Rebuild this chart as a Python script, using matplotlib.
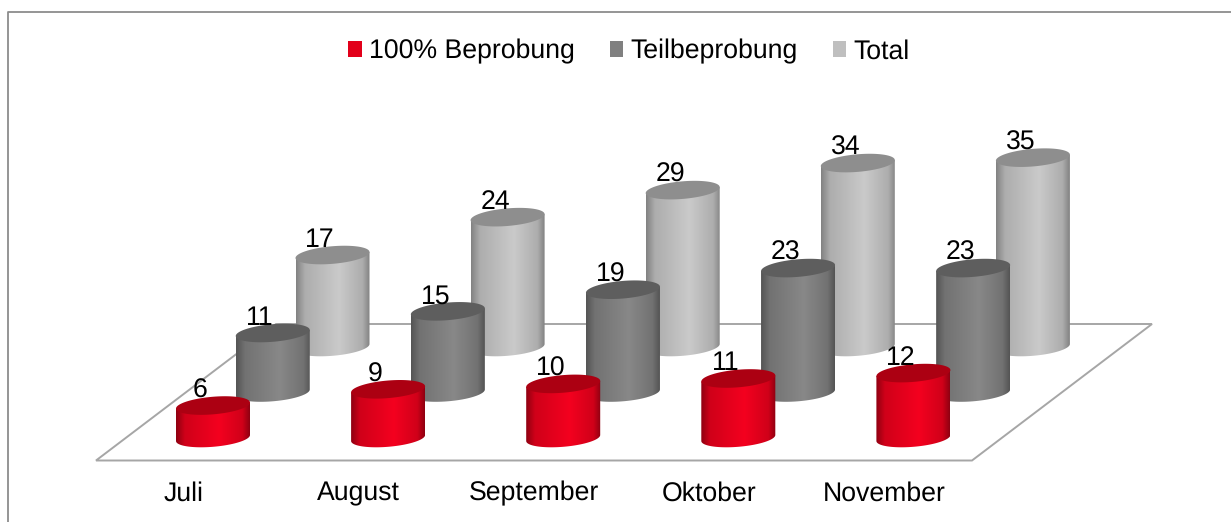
import numpy as np
import matplotlib
matplotlib.use('Agg')
import matplotlib.pyplot as plt
from matplotlib.colors import LinearSegmentedColormap
from matplotlib.patches import Patch, Polygon
from matplotlib.transforms import Affine2D

plt.rcParams['font.family'] = ['Liberation Sans', 'DejaVu Sans']
plt.rcParams['text.hinting'] = 'none'

# values
months = ['Juli', 'August', 'September', 'Oktober', 'November']
series_names = ['100% Beprobung', 'Teilbeprobung', 'Total']
beprobung = [6, 9, 10, 11, 12]
teilbeprobung = [11, 15, 19, 23, 23]
total = [17, 24, 29, 34, 35]
all_values = [beprobung, teilbeprobung, total]

# look of each series: edge, shoulder, bright part, top of the cylinder, legend
looks = [
    ('#8e0011', '#d00019', '#f4001f', '#ac0012', '#e2001a'),
    ('#545454', '#727272', '#888888', '#5e5e5e', '#808080'),
    ('#828282', '#adadad', '#cacaca', '#8e8e8e', '#bfbfbf'),
]

# fake 3d: one category = 175.1 px, one value unit = 5.41 px
px_x = 175.1
px_y = 5.41
x0 = 213
y0 = 438
depth_x = 59.75 / px_x
depth_y = 45.5 / px_y
half_w = 37 / px_x
half_h = 8.8 / px_y
skew = 3.0 / px_y
font_size = 19.2

W, H = 1231, 522
fig = plt.figure(figsize=(W / 100, H / 100), dpi=100)
ax = fig.add_axes([0, 0, 1, 1])
ax.axis('off')

# figure pixels, y going down, for frame and floor
px = Affine2D().scale(1, -1).translate(0, H)

# outer frame, open at right and bottom
ax.plot([8, 8, W], [H, 11.5, 11.5], color='#8c8c8c', lw=1.3, transform=px, clip_on=False)

# floor
floor = Polygon([(96, 460.5), (972, 460.5), (1152, 324), (276, 324)], closed=True,
                facecolor='white', edgecolor='#a6a6a6', lw=1.4, transform=px, zorder=1)
ax.add_patch(floor)

t = np.linspace(0, 2 * np.pi, 120)
ramp = np.linspace(0, 1, 256).reshape(1, -1)


def ellipse(cx, cy):
    ex = half_w * np.cos(t)
    ey = half_h * np.sin(t) + skew * np.cos(t)
    return cx + ex, cy + ey


def cylinder(cx, cy, h, look, z):
    cmap = LinearSegmentedColormap.from_list('c', [(0, look[0]), (0.12, look[1]), (0.58, look[2]),
                                                   (0.9, look[1]), (1, look[0])])
    # side wall: lower half of base ellipse, closed along the top
    low = np.linspace(np.pi, 2 * np.pi, 60)
    bx = cx + half_w * np.cos(low)
    by = cy + half_h * np.sin(low) + skew * np.cos(low)
    wx = np.r_[bx, cx + half_w, cx - half_w]
    wy = np.r_[by, cy + h + skew, cy + h - skew]
    wall = Polygon(np.c_[wx, wy], closed=True, transform=ax.transData, fc='none', ec='none')
    ax.add_patch(wall)
    im = ax.imshow(ramp, cmap=cmap, aspect='auto', zorder=z,
                   extent=[cx - half_w, cx + half_w, cy - half_h - 1, cy + h + 1])
    im.set_clip_path(wall)
    ex, ey = ellipse(cx, cy + h)
    ax.fill(ex, ey, color=look[3], lw=0, zorder=z + 0.1)


# back series first so the front ones cover them
for s in [2, 1, 0]:
    for i, v in enumerate(all_values[s]):
        cx = i + s * depth_x
        cy = s * depth_y
        cylinder(cx, cy, v, looks[s], 2 + (2 - s))
        ax.text(cx - 12.5 / px_x, cy + v + 8 / px_y, str(v), fontsize=font_size, color='black',
                ha='center', va='baseline', zorder=10)

for i, name in enumerate(months):
    ax.text(i - 29.5 / px_x, -62.5 / px_y, name, fontsize=font_size, color='black',
            ha='center', va='baseline', zorder=10)

# data limits so that value 0 of the first series sits at (x0, y0) in pixels
ax.set_xlim(-x0 / px_x, (W - x0) / px_x)
ax.set_ylim((y0 - H) / px_y, y0 / px_y)

handles = [Patch(facecolor=looks[s][4], edgecolor='none') for s in range(3)]
ax.legend(handles, series_names, ncols=3, loc='center', frameon=False, fontsize=font_size,
          bbox_to_anchor=(629 / W, 1 - 51.5 / H), bbox_transform=fig.transFigure,
          handlelength=0.5, handleheight=0.5, handletextpad=0.28, columnspacing=1.3,
          borderpad=0, borderaxespad=0, labelspacing=0)

fig.savefig('out.png', dpi=100)
